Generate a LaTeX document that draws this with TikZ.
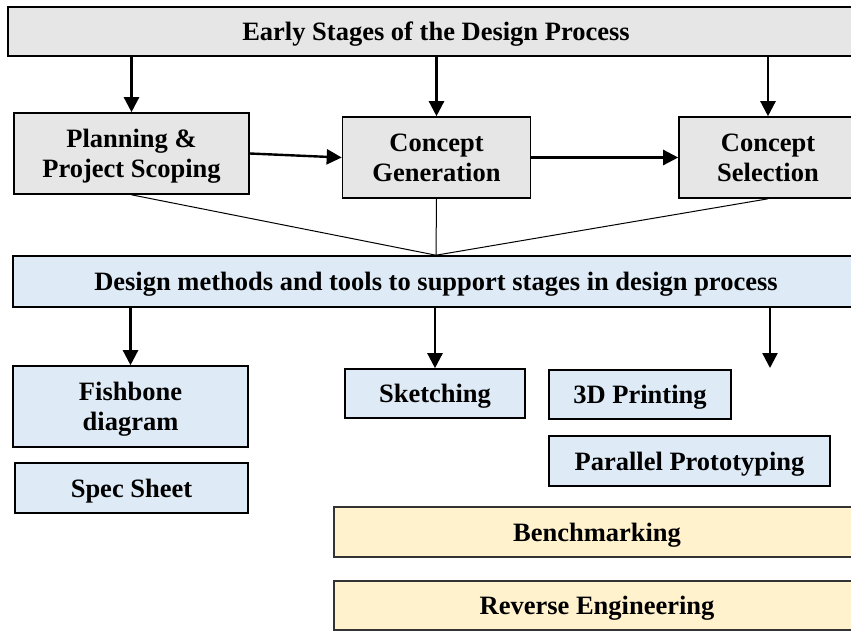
\documentclass[tikz,border=0pt]{standalone}
\usepackage{fontspec}
\setmainfont{Liberation Serif}
\usetikzlibrary{arrows.meta,positioning}

\definecolor{stagegray}{HTML}{E6E6E6}
\definecolor{toolblue}{HTML}{DEEBF7}
\definecolor{toolsand}{HTML}{FFF2CC}

\begin{document}
\begin{tikzpicture}[x=1pt,y=-1pt,
  box/.style={draw=black,line width=1.6pt,inner sep=0pt,align=center,text depth=0pt,
    font=\fontsize{26.5}{30}\selectfont\bfseries},
  stage/.style={box,fill=stagegray},
  tool/.style={box,fill=toolblue},
  extra/.style={box,fill=toolsand,draw=black!80},
  arr/.style={-{Triangle[length=15pt,width=15pt]},line width=2.4pt},
  fan/.style={line width=1pt}]
  \useasboundingbox (0,0) rectangle (851,630);
  \clip (0,0) rectangle (851,630);

  % stages
  \node[stage,minimum width=856pt,minimum height=49pt] (early) at (436,31.5) {Early Stages of the Design Process};
  \node[stage,minimum width=235pt,minimum height=81pt] (plan) at (131.5,153.5) {Planning \&\\Project Scoping};
  \node[stage,minimum width=188pt,minimum height=81pt] (gen) at (436.5,157.5) {Concept\\Generation};
  \node[stage,minimum width=178pt,minimum height=81pt] (sel) at (768,157.5) {Concept\\Selection};

  \draw[arr] (plan |- early.south) -- (plan.north);
  \draw[arr] (gen |- early.south) -- (gen.north);
  \draw[arr] (sel |- early.south) -- (sel.north);
  \draw[arr] (plan.east) -- (gen.west);
  \draw[arr] (gen.east) -- (sel.west);

  % methods and tools
  \node[tool,minimum width=846pt,minimum height=51pt] (methods) at (436,281.5) {Design methods and tools to support stages in design process};
  \draw[fan] (plan.south) -- (methods.north);
  \draw[fan] (gen.south) -- (methods.north);
  \draw[fan] (sel.south) -- (methods.north);

  \node[tool,minimum width=235pt,minimum height=81pt] (fish) at (130.5,406.5) {Fishbone\\diagram};
  \node[tool,minimum width=233pt,minimum height=50pt] (spec) at (131.5,488) {Spec Sheet};
  \node[tool,minimum width=180pt,minimum height=49pt] (sketch) at (435,393.5) {Sketching};
  \node[tool,minimum width=182pt,minimum height=49pt] (print) at (640,394.5) {3D Printing};
  \node[tool,minimum width=281pt,minimum height=50pt] (proto) at (689.5,461) {Parallel Prototyping};
  \node[extra,minimum width=526pt,minimum height=50pt] (bench) at (597,532) {Benchmarking};
  \node[extra,minimum width=526pt,minimum height=49pt] (reverse) at (597,605.5) {Reverse Engineering};
  \coordinate (loose) at (770,368);

  \draw[arr] (fish |- methods.south) -- (fish.north);
  \draw[arr] (sketch |- methods.south) -- (sketch.north);
  \draw[arr] (loose |- methods.south) -- (loose);
\end{tikzpicture}
\end{document}
